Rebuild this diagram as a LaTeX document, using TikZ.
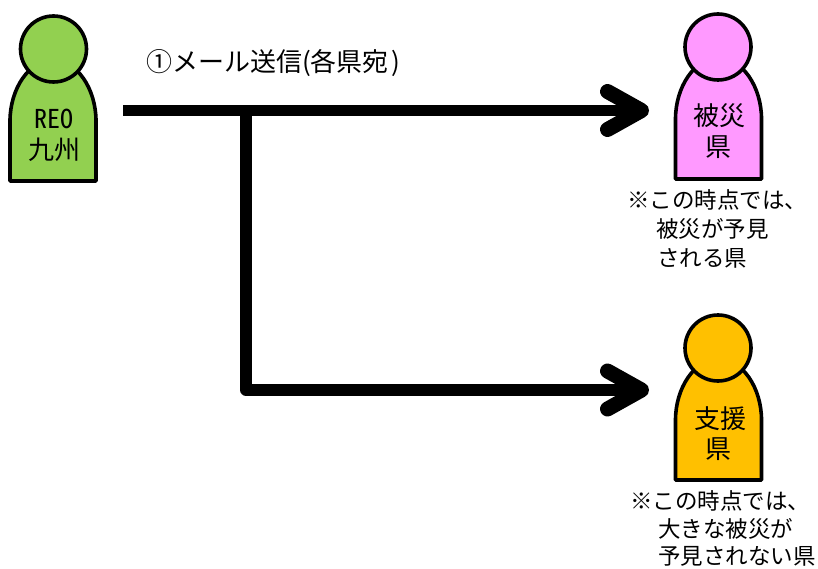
\documentclass[tikz,border=0pt]{standalone}
\usepackage{fontspec}
\usetikzlibrary{arrows.meta}
\newfontfamily\cjk{Noto Sans CJK JP}
\newfontfamily\cjkhw[RawFeature=+hwid]{Noto Sans CJK JP}
\definecolor{cgreen}{HTML}{92D050}
\definecolor{cpink}{HTML}{FF99FF}
\definecolor{camber}{HTML}{FFC000}
\tikzset{
  body/.style={draw=black,line width=3.6pt,line join=round,fill=#1},
  headc/.style={circle,draw=black,line width=3.6pt,fill=#1,minimum size=66pt,inner sep=0pt,outer sep=0pt},
  figtext/.style={font=\cjk\fontsize{26}{26}\selectfont,text=black,inner sep=0pt},
  captext/.style={font=\cjk\fontsize{22.5}{22.5}\selectfont,text=black,inner sep=0pt,anchor=west},
  mailtext/.style={font=\cjk\fontsize{26}{26}\selectfont,text=black,inner sep=0pt,anchor=west},
  bigline/.style={draw=black,line width=11.5pt,line join=round},
  bigarrow/.style={bigline,-{Straight Barb[length=34pt,width=38pt,round,line width=15pt]}}
}
\newcommand{\personbody}[3]{%
  \path[body=#3] (#1-43,#2) -- (#1-43,#2-60)
    .. controls (#1-43,#2-92) and (#1-24,#2-121) .. (#1,#2-121)
    .. controls (#1+24,#2-121) and (#1+43,#2-92) .. (#1+43,#2-60)
    -- (#1+43,#2) -- cycle;}
\begin{document}
\begin{tikzpicture}[x=1pt,y=-1pt]
\useasboundingbox (0,0) rectangle (818,569);
\personbody{53}{181}{cgreen}
\node[headc=cgreen] (headA) at (53.5,49) {};
\node[figtext,font=\cjkhw\fontsize{26}{26}\selectfont] (reo) at (54,119) {REO};
\node[figtext] (kyushu) at (54,150) {九州};
\personbody{718.5}{179}{cpink}
\node[headc=cpink] (headB) at (718,47) {};
\node[figtext] (hisai) at (719,116) {被災};
\node[figtext] (kenB) at (718,147) {県};
\personbody{718.5}{480}{camber}
\node[headc=camber] (headC) at (718,348) {};
\node[figtext] (shien) at (720,419) {支援};
\node[figtext] (kenC) at (718,449) {県};
\node[mailtext] (mail) at (146,63) {①メール送信(各県宛\kern3pt)};
\node[captext] (capB1) at (627,200) {※この時点では、};
\node[captext] (capB2) at (656,229) {被災が予見};
\node[captext] (capB3) at (657,258) {される県};
\node[captext] (capC1) at (630,501) {※この時点では、};
\node[captext] (capC2) at (658,529) {大きな被災が};
\node[captext] (capC3) at (658,556.5) {予見されない県};
\coordinate (start) at (123,110.5);
\coordinate (branch) at (246,110.5);
\coordinate (endB) at (649,110.5);
\coordinate (endC) at (649,390);
\draw[bigarrow] (start) -- (endB);
\draw[bigarrow] (branch) |- (endC);
\end{tikzpicture}
\end{document}
